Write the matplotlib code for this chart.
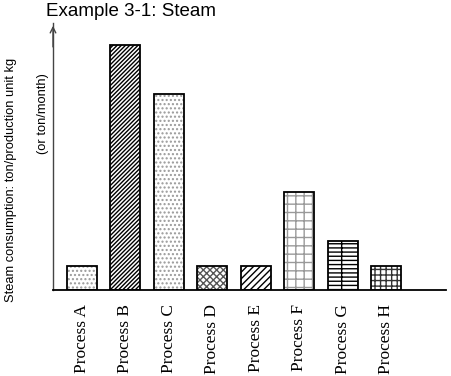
import matplotlib
matplotlib.use("Agg")
import matplotlib.pyplot as plt

# steam consumption per process (relative units)
processes = ["Process A", "Process B", "Process C", "Process D",
             "Process E", "Process F", "Process G", "Process H"]
steam = [1, 10, 8, 1, 1, 4, 2, 1]
hatches = ["....", "////////", "....", "xxxxx", "/////", "++", "---+", "+++"]
hatch_cols = ["#999999", "black", "#999999", "#555555", "black", "#999999", "black", "#333333"]

plt.rcParams["hatch.linewidth"] = 1.0

fig = plt.figure(figsize=(4.52, 3.76), dpi=100)
W, H = 452.0, 376.0
ax = fig.add_axes([53 / W, (H - 290) / H, (446 - 53) / W, (290 - 23) / H])

x = list(range(len(processes)))
# hatch layer first, then a clean black outline on top
ax.bar(x, steam, width=0.69, color="white", edgecolor=hatch_cols, hatch=hatches, linewidth=0)
ax.bar(x, steam, width=0.69, fill=False, edgecolor="black", linewidth=1.3)

ax.set_xlim(-0.667, 8.37)
ax.set_ylim(0, 10.9)
ax.spines["top"].set_visible(False)
ax.spines["right"].set_visible(False)
ax.spines["left"].set_color("#444444")
ax.spines["left"].set_linewidth(1.0)
ax.spines["bottom"].set_linewidth(1.3)
ax.set_yticks([])
ax.set_xticks(x)
ax.set_xticklabels(processes, rotation=90, family="Liberation Serif", fontsize=12.5)
ax.tick_params(axis="x", length=0, pad=10)

# arrow head on the y axis
ax.annotate("", xy=(0, 1.0), xycoords="axes fraction", xytext=(0, 0.9),
            arrowprops=dict(arrowstyle="->", color="#444444", lw=1.0))

fig.text(46 / W, 1 - 12 / H, "Example 3-1: Steam", family="Liberation Sans",
         fontsize=13.5, va="center", ha="left")
fig.text(11 / W, 1 - 180 / H, "Steam consumption: ton/production unit kg",
         rotation=90, family="Liberation Sans", fontsize=9.3, va="center", ha="center")
fig.text(43 / W, 1 - 114 / H, "(or ton/month)",
         rotation=90, family="Liberation Sans", fontsize=9.3, va="center", ha="center")

fig.savefig("out.png", dpi=100)
